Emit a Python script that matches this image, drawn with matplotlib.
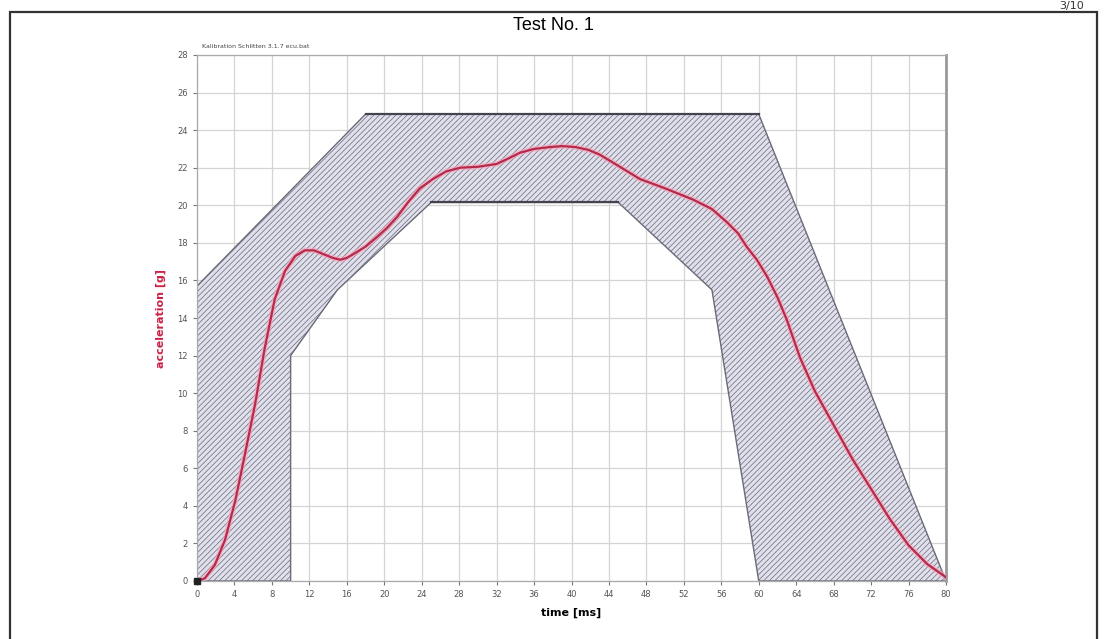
import matplotlib.pyplot as plt
from matplotlib.patches import Polygon, Rectangle

# corridor (hatched band), time in ms / acceleration in g
corridor_t = [0, 0, 18, 60, 80, 60, 55, 45, 25, 15, 10, 10]
corridor_g = [0, 15.7, 24.85, 24.85, 0, 0, 15.5, 20.15, 20.15, 15.5, 12.0, 0]

# measured sled pulse
time_ms = [0, 0.85, 1.9, 3.0, 4.1, 5.1, 6.2, 7.2, 8.3, 9.4, 10.5, 11.5, 12.5, 13.5,
           14.5, 15.3, 16.0, 16.7, 18.0, 19.2, 20.3, 21.4, 22.6, 23.8, 25.2, 26.6,
           28.1, 30.0, 32.0, 33.3, 34.5, 36.0, 37.7, 39.0, 40.4, 41.8, 43.0, 45.0,
           47.3, 50.0, 53.0, 55.0, 56.6, 57.8, 58.7, 59.8, 60.9, 62.0, 63.0, 64.4,
           66.0, 68.0, 70.0, 72.0, 74.0, 76.0, 78.0, 80.0]
accel_g = [0, 0.15, 0.85, 2.2, 4.3, 6.7, 9.4, 12.3, 15.0, 16.5, 17.3, 17.6, 17.6, 17.4,
           17.2, 17.1, 17.2, 17.4, 17.8, 18.3, 18.8, 19.4, 20.2, 20.9, 21.4, 21.8,
           22.0, 22.05, 22.2, 22.5, 22.8, 23.0, 23.1, 23.15, 23.1, 22.95, 22.7, 22.1,
           21.4, 20.9, 20.3, 19.8, 19.1, 18.5, 17.8, 17.1, 16.2, 15.1, 13.9, 11.9,
           10.1, 8.3, 6.5, 4.9, 3.3, 1.9, 0.9, 0.2]

x_ticks = list(range(0, 81, 4))
y_ticks = list(range(0, 29, 2))

plt.rcParams['hatch.linewidth'] = 0.5
plt.rcParams['hatch.color'] = '#8486a4'

fig = plt.figure(figsize=(11.07, 6.39), dpi=100)

# page frame
fig.patches.append(Rectangle((10 / 1107, -0.01), 1087 / 1107, 1 - 12 / 639 + 0.01,
                             transform=fig.transFigure, fill=False,
                             edgecolor='#333333', linewidth=1.6))
fig.text(0.5, 1 - 25 / 639, "Test No. 1", ha='center', va='center', fontsize=13,
         family='Liberation Sans')
fig.text(1072 / 1107, 1 - 1 / 639, "3/10", ha='center', va='top', fontsize=8,
         color='#333333')

ax = fig.add_axes([197 / 1107, 1 - 581 / 639, 749 / 1107, 526 / 639])
ax.set_xlim(0, 80)
ax.set_ylim(0, 28)
ax.set_xticks(x_ticks)
ax.set_yticks(y_ticks)
ax.tick_params(labelsize=6, colors='#777777', length=3, width=0.8)
for lbl in ax.get_xticklabels() + ax.get_yticklabels():
    lbl.set_color('#555555')
ax.grid(True, color='#d4d4d4', linewidth=0.9)
ax.set_axisbelow(True)
for side in ['left', 'bottom', 'top']:
    ax.spines[side].set_color('#aaaaaa')
    ax.spines[side].set_linewidth(0.9)
ax.spines['right'].set_color('#999999')
ax.spines['right'].set_linewidth(2)

band = Polygon(list(zip(corridor_t, corridor_g)), closed=True, facecolor='#e0e0ec',
               edgecolor='#6a6a78', linewidth=1.0, hatch='//////', zorder=2)
ax.add_patch(band)
# darker plateau edges
ax.plot(corridor_t[2:4], corridor_g[2:4], color='#444450', linewidth=1.6, zorder=3)
ax.plot(corridor_t[7:9], corridor_g[7:9], color='#444450', linewidth=1.6, zorder=3)

ax.plot(time_ms, accel_g, color='#f3a6bb', linewidth=4.0, alpha=0.6, zorder=4,
        solid_joinstyle='round')
ax.plot(time_ms, accel_g, color='#b8294a', linewidth=1.6, zorder=5,
        solid_joinstyle='round')
ax.plot(time_ms[0], accel_g[0], marker='s', color='#222222', markersize=4,
        clip_on=False, zorder=6)

ax.set_xlabel("time [ms]", fontsize=8, fontweight='bold', labelpad=6)
ax.set_ylabel("acceleration [g]", fontsize=8, fontweight='bold', color='#cc2244',
              labelpad=8)
ax.text(0.5, 28.3, "Kalibration Schlitten 3.1.7 ecu.bat", fontsize=4.5,
        color='#444444', va='bottom')

fig.savefig("out.png", dpi=100)
